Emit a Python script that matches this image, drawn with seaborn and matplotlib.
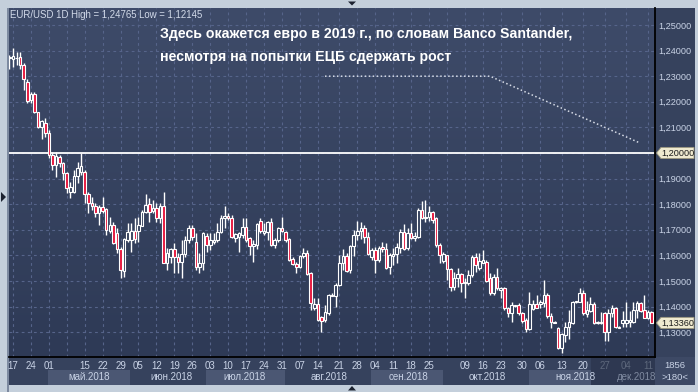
import numpy as np
import matplotlib
matplotlib.use("Agg")
import matplotlib.pyplot as plt
import matplotlib.patches as mpatches
import matplotlib.transforms as mtransforms
from matplotlib.colors import LinearSegmentedColormap
import seaborn as sns

# ---------------- data (EUR/USD daily candles) ----------------
opens = [1.2372, 1.2366, 1.2370, 1.2374, 1.2344, 1.2279, 1.2207, 1.2229, 1.2159, 1.2100,
         1.2119, 1.2077, 1.1992, 1.1953, 1.1986, 1.1960, 1.1921, 1.1849, 1.1849, 1.1911,
         1.1926, 1.1926, 1.1840, 1.1806, 1.1794, 1.1767, 1.1790, 1.1780, 1.1697, 1.1719,
         1.1686, 1.1624, 1.1540, 1.1660, 1.1660, 1.1697, 1.1697, 1.1716, 1.1771, 1.1799,
         1.1775, 1.1784, 1.1745, 1.1794, 1.1572, 1.1595, 1.1624, 1.1595, 1.1576, 1.1604,
         1.1660, 1.1706, 1.1654, 1.1556, 1.1569, 1.1676, 1.1641, 1.1654, 1.1660, 1.1693,
         1.1745, 1.1754, 1.1745, 1.1669, 1.1673, 1.1680, 1.1712, 1.1667, 1.1638, 1.1641,
         1.1734, 1.1686, 1.1693, 1.1732, 1.1641, 1.1660, 1.1706, 1.1690, 1.1664, 1.1586,
         1.1566, 1.1556, 1.1599, 1.1608, 1.1530, 1.1393, 1.1410, 1.1358, 1.1348, 1.1376,
         1.1441, 1.1441, 1.1484, 1.1569, 1.1598, 1.1543, 1.1637, 1.1680, 1.1695, 1.1708,
         1.1671, 1.1595, 1.1621, 1.1582, 1.1634, 1.1625, 1.1556, 1.1598, 1.1604, 1.1628,
         1.1693, 1.1628, 1.1686, 1.1667, 1.1673, 1.1777, 1.1745, 1.1749, 1.1768, 1.1747,
         1.1641, 1.1578, 1.1600, 1.1547, 1.1478, 1.1513, 1.1526, 1.1491, 1.1491, 1.1523,
         1.1595, 1.1552, 1.1572, 1.1573, 1.1510, 1.1452, 1.1517, 1.1465, 1.1474, 1.1393,
         1.1374, 1.1402, 1.1406, 1.1374, 1.1348, 1.1312, 1.1391, 1.1409, 1.1409, 1.1413,
         1.1445, 1.1365, 1.1341, 1.1318, 1.1237, 1.1289, 1.1322, 1.1335, 1.1418, 1.1419,
         1.1452, 1.1370, 1.1383, 1.1409, 1.1341, 1.1335, 1.1374, 1.1300, 1.1374, 1.1396,
         1.1322, 1.1335, 1.1335, 1.1341, 1.1341, 1.1387, 1.1413, 1.1387, 1.1357, 1.1378]
highs = [1.2383, 1.2409, 1.2396, 1.2396, 1.2350, 1.2288, 1.2240, 1.2240, 1.2162, 1.2129,
         1.2135, 1.2090, 1.2005, 1.2005, 1.1992, 1.1966, 1.1927, 1.1888, 1.1933, 1.1966,
         1.1999, 1.1934, 1.1849, 1.1830, 1.1803, 1.1797, 1.1830, 1.1784, 1.1751, 1.1732,
         1.1706, 1.1634, 1.1666, 1.1725, 1.1728, 1.1745, 1.1751, 1.1777, 1.1840, 1.1823,
         1.1816, 1.1803, 1.1803, 1.1849, 1.1628, 1.1628, 1.1647, 1.1608, 1.1660, 1.1676,
         1.1719, 1.1719, 1.1686, 1.1608, 1.1693, 1.1686, 1.1686, 1.1686, 1.1725, 1.1758,
         1.1794, 1.1764, 1.1758, 1.1686, 1.1693, 1.1745, 1.1745, 1.1673, 1.1660, 1.1725,
         1.1747, 1.1725, 1.1734, 1.1745, 1.1667, 1.1712, 1.1749, 1.1695, 1.1667, 1.1595,
         1.1576, 1.1602, 1.1628, 1.1621, 1.1534, 1.1432, 1.1432, 1.1363, 1.1406, 1.1449,
         1.1452, 1.1491, 1.1602, 1.1624, 1.1608, 1.1641, 1.1699, 1.1734, 1.1729, 1.1719,
         1.1693, 1.1628, 1.1634, 1.1637, 1.1654, 1.1647, 1.1608, 1.1628, 1.1647, 1.1703,
         1.1721, 1.1706, 1.1725, 1.1693, 1.1786, 1.1812, 1.1816, 1.1794, 1.1773, 1.1751,
         1.1647, 1.1615, 1.1602, 1.1552, 1.1536, 1.1552, 1.1530, 1.1510, 1.1543, 1.1602,
         1.1608, 1.1608, 1.1621, 1.1582, 1.1530, 1.1526, 1.1550, 1.1478, 1.1478, 1.1400,
         1.1419, 1.1406, 1.1413, 1.1380, 1.1354, 1.1458, 1.1426, 1.1445, 1.1426, 1.1504,
         1.1452, 1.1374, 1.1342, 1.1322, 1.1296, 1.1341, 1.1387, 1.1422, 1.1422, 1.1471,
         1.1465, 1.1422, 1.1439, 1.1419, 1.1344, 1.1380, 1.1380, 1.1391, 1.1406, 1.1400,
         1.1325, 1.1383, 1.1419, 1.1383, 1.1419, 1.1422, 1.1419, 1.1445, 1.1387, 1.1383]
lows = [1.2327, 1.2337, 1.2344, 1.2327, 1.2246, 1.2194, 1.2197, 1.2155, 1.2096, 1.2053,
        1.2064, 1.1979, 1.1934, 1.1908, 1.1947, 1.1895, 1.1845, 1.1823, 1.1843, 1.1882,
        1.1914, 1.1803, 1.1764, 1.1777, 1.1751, 1.1719, 1.1764, 1.1680, 1.1686, 1.1645,
        1.1608, 1.1510, 1.1517, 1.1654, 1.1615, 1.1647, 1.1654, 1.1713, 1.1764, 1.1732,
        1.1764, 1.1732, 1.1725, 1.1569, 1.1543, 1.1569, 1.1530, 1.1530, 1.1510, 1.1595,
        1.1647, 1.1660, 1.1543, 1.1530, 1.1543, 1.1615, 1.1621, 1.1645, 1.1654, 1.1686,
        1.1706, 1.1738, 1.1667, 1.1651, 1.1615, 1.1667, 1.1654, 1.1602, 1.1576, 1.1625,
        1.1686, 1.1680, 1.1660, 1.1638, 1.1628, 1.1651, 1.1693, 1.1654, 1.1578, 1.1562,
        1.1530, 1.1550, 1.1589, 1.1523, 1.1387, 1.1387, 1.1345, 1.1302, 1.1341, 1.1367,
        1.1441, 1.1397, 1.1480, 1.1543, 1.1536, 1.1532, 1.1598, 1.1660, 1.1664, 1.1647,
        1.1602, 1.1582, 1.1530, 1.1573, 1.1615, 1.1547, 1.1526, 1.1562, 1.1569, 1.1608,
        1.1621, 1.1621, 1.1664, 1.1656, 1.1669, 1.1742, 1.1732, 1.1734, 1.1725, 1.1634,
        1.1569, 1.1569, 1.1504, 1.1461, 1.1465, 1.1478, 1.1458, 1.1432, 1.1484, 1.1517,
        1.1536, 1.1543, 1.1569, 1.1495, 1.1445, 1.1445, 1.1465, 1.1432, 1.1387, 1.1361,
        1.1339, 1.1400, 1.1367, 1.1335, 1.1302, 1.1309, 1.1387, 1.1393, 1.1393, 1.1400,
        1.1357, 1.1318, 1.1336, 1.1234, 1.1217, 1.1263, 1.1274, 1.1331, 1.1415, 1.1419,
        1.1367, 1.1361, 1.1380, 1.1331, 1.1331, 1.1331, 1.1266, 1.1266, 1.1361, 1.1318,
        1.1315, 1.1322, 1.1322, 1.1322, 1.1335, 1.1357, 1.1378, 1.1354, 1.1352, 1.1335]
closes = [1.2375, 1.2379, 1.2372, 1.2344, 1.2288, 1.2204, 1.2229, 1.2159, 1.2100, 1.2125,
          1.2079, 1.1992, 1.1953, 1.1988, 1.1960, 1.1921, 1.1862, 1.1869, 1.1911, 1.1940,
          1.1949, 1.1840, 1.1806, 1.1794, 1.1767, 1.1790, 1.1775, 1.1699, 1.1719, 1.1647,
          1.1624, 1.1543, 1.1663, 1.1693, 1.1697, 1.1663, 1.1719, 1.1771, 1.1797, 1.1771,
          1.1784, 1.1745, 1.1794, 1.1572, 1.1608, 1.1624, 1.1595, 1.1576, 1.1604, 1.1660,
          1.1706, 1.1673, 1.1556, 1.1572, 1.1686, 1.1641, 1.1660, 1.1660, 1.1693, 1.1745,
          1.1755, 1.1745, 1.1673, 1.1682, 1.1686, 1.1712, 1.1660, 1.1638, 1.1643, 1.1721,
          1.1695, 1.1695, 1.1732, 1.1641, 1.1660, 1.1706, 1.1695, 1.1660, 1.1582, 1.1566,
          1.1556, 1.1599, 1.1608, 1.1526, 1.1414, 1.1410, 1.1348, 1.1345, 1.1380, 1.1445,
          1.1445, 1.1484, 1.1572, 1.1598, 1.1540, 1.1637, 1.1680, 1.1695, 1.1708, 1.1671,
          1.1604, 1.1621, 1.1582, 1.1630, 1.1625, 1.1552, 1.1602, 1.1605, 1.1634, 1.1693,
          1.1625, 1.1686, 1.1669, 1.1677, 1.1777, 1.1747, 1.1749, 1.1768, 1.1738, 1.1641,
          1.1602, 1.1604, 1.1547, 1.1478, 1.1513, 1.1526, 1.1491, 1.1495, 1.1523, 1.1595,
          1.1563, 1.1578, 1.1582, 1.1500, 1.1452, 1.1517, 1.1471, 1.1474, 1.1393, 1.1374,
          1.1406, 1.1406, 1.1374, 1.1344, 1.1312, 1.1409, 1.1409, 1.1396, 1.1417, 1.1445,
          1.1365, 1.1339, 1.1337, 1.1237, 1.1292, 1.1322, 1.1339, 1.1417, 1.1420, 1.1452,
          1.1374, 1.1387, 1.1409, 1.1335, 1.1335, 1.1341, 1.1300, 1.1374, 1.1396, 1.1322,
          1.1318, 1.1348, 1.1348, 1.1348, 1.1387, 1.1413, 1.1383, 1.1357, 1.1380, 1.1336]

date_ticks = [1, 6, 11, 21, 26, 31, 36, 41, 46, 51, 56, 61, 66, 71, 76, 81, 86, 92, 97,
              102, 107, 112, 117, 127, 132, 137, 143, 148, 154, 160, 166, 172, 178]
date_labels = ['17', '24', '01', '15', '22', '29', '05', '12', '19', '26', '03', '10',
               '17', '24', '31', '07', '14', '21', '28', '04', '11', '18', '25', '09',
               '16', '23', '30', '06', '13', '20', '27', '04', '11']
extra_grid = [16, 122]
month_labels = ['май.2018', 'июн.2018', 'июл.2018', 'авг.2018',
                'сен.2018', 'окт.2018', 'ноя.2018', 'дек.2018']
price_ticks = [1.13, 1.14, 1.15, 1.16, 1.17, 1.18, 1.19, 1.20, 1.21, 1.22, 1.23, 1.24, 1.25]
forecast_x = [88, 134, 175.8]
forecast_y = [1.23, 1.23, 1.2039]
level_price = 1.20
last_price = 1.1336
header = "EUR/USD 1D High = 1,24765 Low = 1,12145"
note_lines = ["Здесь окажется евро в 2019 г., по словам Banco Santander,",
              "несмотря на попытки ЕЦБ сдержать рост"]

# ---------------- style ----------------
sns.set_theme(style="dark")
plt.rcParams['font.family'] = ['Liberation Sans', 'DejaVu Sans']

W, H = 698, 392
fig = plt.figure(figsize=(W / 100, H / 100), dpi=100, facecolor='#c4cfdb')


def fx(x):
    return x / W


def fy(y):
    return 1 - y / H


def frect(x0, y0, x1, y1, color, z=-1, alpha=1.0):
    r = mpatches.Rectangle((fx(x0), fy(y1)), fx(x1) - fx(x0), fy(y0) - fy(y1),
                           transform=fig.transFigure, facecolor=color, edgecolor='none',
                           zorder=z, alpha=alpha)
    fig.add_artist(r)
    return r


# dark panel (axis areas)
frect(8, 8, 695, 385, '#36425d', z=-2)
frect(7.5, 8, 8.5, 392, '#7d8aa0', z=-2)
# month bands on bottom axis
band_edges = [48, 130, 206, 285, 371, 443, 529, 591, 655]
band_cols = ['#4b5773', '#36425d', '#4b5773', '#36425d', '#4b5773', '#36425d', '#4b5773', '#36425d']
for i in range(len(month_labels)):
    frect(band_edges[i], 370, band_edges[i + 1], 384.5, band_cols[i], z=-1)
frect(655, 357, 695, 385, '#3d4965', z=-1)

# ---------------- main axes ----------------
ymin, ymax = 1.1203, 1.25664
ax = fig.add_axes([fx(9), fy(357), fx(655) - fx(9), fy(8) - fy(357)])
grad = np.linspace(0, 1, 256).reshape(-1, 1)
cmap = LinearSegmentedColormap.from_list('bg', ['#3e4b69', '#2e3a56'])
ax.imshow(grad, extent=[0, 1, 0, 1], transform=ax.transAxes, aspect='auto', cmap=cmap, zorder=0)
ax.set_xlim(-0.1, 180.0)
ax.set_ylim(ymin, ymax)

grid_kw = dict(color='#56648a', lw=0.8, ls=(0, (2.5, 3)), zorder=1)
for p in price_ticks:
    ax.axhline(p, **grid_kw)
for gx in list(date_ticks) + extra_grid:
    ax.axvline(gx, **grid_kw)

idx = np.arange(len(opens))
o = np.array(opens)
c = np.array(closes)
bull = c >= o
bottoms = np.minimum(o, c)
heights = np.maximum(np.abs(c - o), 0.00006)
fills = np.where(bull, '#34415d', '#e6163c')

ax.axhline(level_price, color='white', lw=1.3, zorder=2)
ax.vlines(idx, lows, highs, color='white', lw=1.0, zorder=3)
ax.bar(idx, heights, bottom=bottoms, width=0.72, color=fills, edgecolor='white',
       linewidth=0.8, zorder=4)

sns.lineplot(x=forecast_x, y=forecast_y, ax=ax, color='#d6dbe6', lw=1.1,
             linestyle=(0, (1, 1.6)), zorder=5)

for s in ['top', 'left']:
    ax.spines[s].set_visible(False)
ax.spines['right'].set_color('black')
ax.spines['right'].set_linewidth(1.3)
ax.spines['bottom'].set_color('black')
ax.spines['bottom'].set_linewidth(1.3)

ax.yaxis.tick_right()
ax.set_yticks(price_ticks)
# the 1.20 level is shown in its own highlighted box instead of a plain tick label
ax.set_yticklabels(['' if abs(p - level_price) < 1e-9 else f"{p:.5f}".replace('.', ',')
                    for p in price_ticks])
ax.tick_params(axis='y', length=0, pad=2.5, labelsize=6.6, labelcolor='#c9d3e6')
ax.set_xticks(date_ticks)
ax.set_xticklabels(date_labels)
ax.tick_params(axis='x', length=0, pad=3.2, labelsize=7, labelcolor='#c9d3e6')
ax.grid(False)
for lab, t in zip(ax.get_xticklabels(), date_ticks):
    if t >= 163:
        lab.set_color('#7f8aa0')

# month labels
month_cx = [89, 171, 245, 329, 408, 487, 575, 637]
for lab, cx in zip(month_labels, month_cx):
    col = '#7f8aa0' if lab.startswith('дек') else '#c9d3e6'
    fig.text(fx(cx), fy(377.5), lab, ha='center', va='center', fontsize=7, color=col)
# shaded scroll region
frect(591, 358, 655, 385, '#20283b', z=3, alpha=0.35)

# price boxes on right axis
btr = mtransforms.blended_transform_factory(fig.transFigure, ax.transData)
hh = 5.6 / 349 * (ymax - ymin)
for p in [level_price, last_price]:
    poly = mpatches.Polygon([(fx(656.5), p), (fx(661), p + hh), (fx(694), p + hh),
                             (fx(694), p - hh), (fx(661), p - hh)], closed=True,
                            transform=btr, facecolor='#efead0', edgecolor='#9a967e',
                            lw=0.6, zorder=10, clip_on=False)
    fig.add_artist(poly)
    t = fig.text(fx(661.5), p, f"{p:.5f}".replace('.', ','), fontsize=6.6,
                 color='#1a1a1a', va='center', ha='left', zorder=11)
    t.set_transform(btr)

# header & annotation
fig.text(fx(10), fy(15.5), header, fontsize=6.9, color='#d3dbea', va='center', ha='left')
fig.text(fx(160), fy(34), note_lines[0], fontsize=10.2, fontweight='bold', color='white',
         va='center', ha='left')
fig.text(fx(160), fy(57), note_lines[1], fontsize=10.2, fontweight='bold', color='white',
         va='center', ha='left')

# bottom-right counters
fig.text(fx(675), fy(365.5), "1856", fontsize=6.8, color='#c9d3e6', ha='center', va='center')
fig.text(fx(675), fy(377.5), ">180<", fontsize=6.8, color='#c9d3e6', ha='center', va='center')


# small UI triangles
def ftri(pts):
    fig.add_artist(mpatches.Polygon([(fx(a), fy(b)) for a, b in pts], closed=True,
                                    transform=fig.transFigure, facecolor='#1c2230',
                                    edgecolor='none', zorder=12))


ftri([(1, 192), (6, 197), (1, 202)])
ftri([(348, 1.5), (356, 1.5), (352, 5.5)])
ftri([(348, 390.5), (356, 390.5), (352, 386)])

fig.savefig('out.png', dpi=100, facecolor=fig.get_facecolor())
